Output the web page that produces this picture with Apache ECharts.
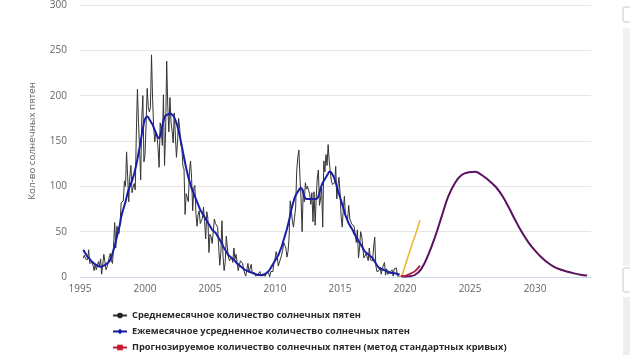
<!DOCTYPE html>
<html>
<head>
<meta charset="utf-8">
<script src="https://cdn.jsdelivr.net/npm/echarts@6/dist/echarts.min.js"></script>
<style>
html,body{margin:0;padding:0;background:#fff;}
#chart{width:630px;height:355px;}
</style>
</head>
<body>
<div id="chart"></div>
<script>
// Observed data: monthly values starting April 1995
const startYear = 1995;
const startMonth = 3; // April (0-based)

const monthlyMean = [
  21, 24, 20, 22, 19, 30, 15, 13, 16,
  13, 7, 14, 8, 9, 17, 12, 20, 3, 2, 25, 17,
  8, 11, 12, 22, 26, 18, 15, 34, 60, 32, 56, 58,
  48, 60, 82, 80, 84, 106, 100, 138, 139, 83, 111, 123,
  93, 99, 103, 96, 160, 207, 170, 141, 107, 175, 200, 127,
  135, 169, 208, 188, 182, 187, 245, 196, 165, 149, 160, 157,
  143, 121, 170, 162, 145, 201, 123, 160, 238, 188, 160, 198,
  171, 161, 148, 181, 181, 132, 149, 175, 164, 146, 143, 122,
  119, 69, 92, 90, 83, 116, 128, 109, 73, 98, 101, 70,
  56, 69, 73, 59, 62, 65, 77, 61, 42, 72, 65, 27,
  47, 44, 37, 37, 64, 59, 60, 55, 33, 13, 27, 62,
  23, 7, 16, 45, 33, 21, 18, 19, 22, 16, 32, 20,
  25, 16, 7, 5, 18, 18, 15, 9, 4, 1, 3, 15,
  5, 3, 14, 4, 5, 5, 1, 1, 2, 4, 6, 1,
  2, 2, 1, 1, 4, 4, 5, 0, 6, 7, 6, 16,
  20, 28, 23, 12, 13, 20, 24, 29, 38, 35, 32, 22,
  28, 44, 84, 82, 62, 55, 66, 76, 117, 132, 140, 110,
  87, 50, 96, 83, 104, 97, 100, 95, 92, 80, 93, 61,
  94, 57, 87, 109, 118, 79, 86, 99, 55, 128, 116, 135,
  123, 146, 128, 116, 106, 102, 101, 104, 122, 86, 100, 110,
  93, 67, 55, 75, 89, 67, 66, 64, 79, 64, 62, 58,
  57, 56, 54, 38, 52, 21, 32, 50, 45, 33, 21, 19,
  26, 26, 18, 32, 19, 19, 18, 33, 44, 13, 6, 8,
  7, 11, 3, 9, 13, 16, 2, 9, 3, 5, 5, 3,
  8, 1, 9, 9, 10, 1, 1, 1
];

const smoothedMean = [
  30, 28, 26, 24, 22, 21, 20, 18, 17,
  16, 15, 14, 13, 12.5, 12, 11.5, 11.2, 11.5, 12, 12.5, 13,
  14, 15, 16, 17, 19, 22, 26, 30, 34, 39, 44, 49,
  54, 59, 66, 71, 75, 79, 83, 88, 93, 97, 100, 103,
  106, 110, 114, 119, 124, 130, 137, 143, 150, 157, 163, 170,
  174, 176, 177, 176, 174, 172, 170, 168, 165, 162, 159, 156,
  154, 153, 156, 161, 167, 172, 176, 178, 179, 179, 180, 180,
  180, 179, 178, 176, 173, 170, 166, 161, 156, 150, 144, 138,
  132, 126, 120, 115, 110, 106, 102, 98, 95, 92, 89, 86,
  83, 80, 77, 74, 72, 70, 68, 66, 64, 62, 60, 58,
  56, 54, 52, 51, 50, 49, 47, 45, 43, 41, 39, 37,
  34, 32, 30, 28, 26, 24, 23, 22, 21, 20, 19, 18,
  16, 15, 14, 13, 12, 11, 10, 9, 8, 7.5, 7, 6.5,
  6, 5.5, 5, 4.5, 4, 3.6, 3.2, 2.8, 2.5, 2.3, 2.2, 2.1,
  2.2, 2.5, 3, 3.5, 4.5, 5.5, 6.5, 8, 10, 12, 14, 16,
  18, 20, 22, 24, 27, 30, 33, 37, 41, 45, 49, 53,
  58, 63, 68, 74, 79, 83, 87, 90, 92, 94, 96, 98,
  98, 97, 93, 89, 87, 86, 86, 86, 86, 86, 86, 86,
  86, 86, 86, 87, 89, 93, 98, 101, 104, 106, 108, 110,
  112, 114, 116, 116, 115, 113, 111, 108, 104, 100, 96, 92,
  88, 84, 80, 76, 72, 68, 65, 62, 59, 57, 55, 53,
  51, 48, 46, 44, 42, 40, 38, 36, 34, 32, 30, 28,
  27, 26, 25, 24, 23, 22, 21, 19, 17, 15, 13, 11.5,
  10, 9.5, 9, 8.5, 8, 7.5, 7, 6.5, 6, 5.5, 5, 4.5,
  4.5, 4.5, 4, 4, 3.5, 3.5, 3, 3
];

// Predictions
const stdCurveYears = [2019.65, 2020.0, 2020.25, 2020.5, 2020.77, 2021.15];
const stdCurveValues = [1, 1.2, 2.7, 4.3, 6.5, 12.5];

const upperYears = [2019.7, 2019.8, 2019.9, 2020.4, 2020.8, 2021.15];
const upperValues = [0.5, 3, 8, 30, 47, 62.5];

const panelYears = [2019.75, 2020.25, 2020.75, 2021.25, 2021.8, 2022.3, 2022.8, 2023.3, 2023.85, 2024.35, 2024.9, 2025.4, 2025.9, 2026.4, 2027.0, 2027.5, 2028.0, 2028.5, 2029.0, 2029.5, 2030.0, 2030.5, 2031.0, 2031.5, 2032.0, 2032.5, 2033.0, 2033.5, 2034.0];
const panelValues = [0.5, 0.8, 2.2, 9, 25, 44, 66, 88, 104, 112.5, 115.5, 116, 112.5, 107, 99, 89, 76, 62, 49, 38, 29, 21.5, 15.5, 11, 8, 5.8, 4, 2.6, 1.6];

const xTicks = [1995, 2000, 2005, 2010, 2015, 2020, 2025, 2030];

const legendNames = [
  'Среднемесячное количество солнечных пятен',
  'Ежемесячное усредненное количество солнечных пятен',
  'Прогнозируемое количество солнечных пятен (метод стандартных кривых)'
];

function monthlyPairs(arr) {
  return arr.map((v, i) => [startYear + (startMonth + i) / 12, v]);
}
function pairs(xs, ys) { return xs.map((x, i) => [x, ys[i]]); }

const FONT = '"Open Sans", "Liberation Sans", sans-serif';
const legendText = {color: '#2b2b2b', fontSize: 9.3, fontWeight: 'bold', fontFamily: FONT};
function makeLegend(name, top) {
  return {
    data: [name], orient: 'vertical', left: 112, top: top,
    itemWidth: 14, itemHeight: 7, itemGap: 0, padding: 0,
    textStyle: legendText
  };
}

const chart = echarts.init(document.getElementById('chart'), null, {renderer: 'canvas'});
chart.setOption({
  animation: false,
  backgroundColor: '#fff',
  textStyle: {fontFamily: FONT},
  grid: {left: 80, right: 39, top: 2, bottom: 78, containLabel: false},
  xAxis: {
    type: 'value', min: 1995, max: 2034.3, interval: 5,
    axisLine: {show: true, lineStyle: {color: '#ccd6eb', width: 1}},
    axisTick: {show: false},
    splitLine: {show: false},
    axisLabel: {
      color: '#666', fontSize: 10, margin: 7, fontFamily: FONT,
      formatter: v => xTicks.indexOf(v) >= 0 ? String(v) : ''
    }
  },
  yAxis: {
    type: 'value', min: 0, max: 300, interval: 50,
    name: 'Кол-во солнечных пятен', nameLocation: 'middle', nameGap: 43,
    nameTextStyle: {color: '#666', fontSize: 9.8, fontFamily: FONT},
    axisLine: {show: false}, axisTick: {show: false},
    splitLine: {lineStyle: {color: '#e6e6e6', width: 1}},
    axisLabel: {color: '#666', fontSize: 10, margin: 13, fontFamily: FONT}
  },
  legend: [
    makeLegend(legendNames[0], 311),
    makeLegend(legendNames[1], 327),
    makeLegend(legendNames[2], 343)
  ],
  series: [
    {
      name: legendNames[0], type: 'line', data: monthlyPairs(monthlyMean),
      symbol: 'circle', showSymbol: false, color: '#222',
      lineStyle: {color: '#333', width: 1}
    },
    {
      name: legendNames[1], type: 'line', data: monthlyPairs(smoothedMean),
      symbol: 'diamond', showSymbol: false, color: '#1b1fa8', smooth: 0.3,
      lineStyle: {color: '#1b1fa8', width: 2}
    },
    {
      name: 'upper', type: 'line', data: pairs(upperYears, upperValues),
      showSymbol: false, smooth: 0.2, color: '#e6b835',
      lineStyle: {color: '#e6b835', width: 1.6}
    },
    {
      name: 'panel', type: 'line', data: pairs(panelYears, panelValues),
      showSymbol: false, smooth: 0.4, color: '#5b1160',
      lineStyle: {color: '#5b1160', width: 2}
    },
    {
      name: legendNames[2], type: 'line', data: pairs(stdCurveYears, stdCurveValues),
      symbol: 'rect', showSymbol: false, smooth: 0.3, color: '#d0142c',
      lineStyle: {color: '#b81c3c', width: 1.8}
    }
  ],
  graphic: [
    {type: 'rect', shape: {x: 623, y: 7, width: 12, height: 15, r: 2}, style: {fill: '#fff', stroke: '#c8c8c8'}},
    {type: 'rect', shape: {x: 623, y: 28, width: 10, height: 238}, style: {fill: '#f1f1f1'}},
    {type: 'rect', shape: {x: 623, y: 268, width: 12, height: 24, r: 2}, style: {fill: '#fff', stroke: '#c8c8c8'}},
    {type: 'rect', shape: {x: 623, y: 297, width: 10, height: 58}, style: {fill: '#eeeeee'}}
  ]
});
</script>
</body>
</html>
